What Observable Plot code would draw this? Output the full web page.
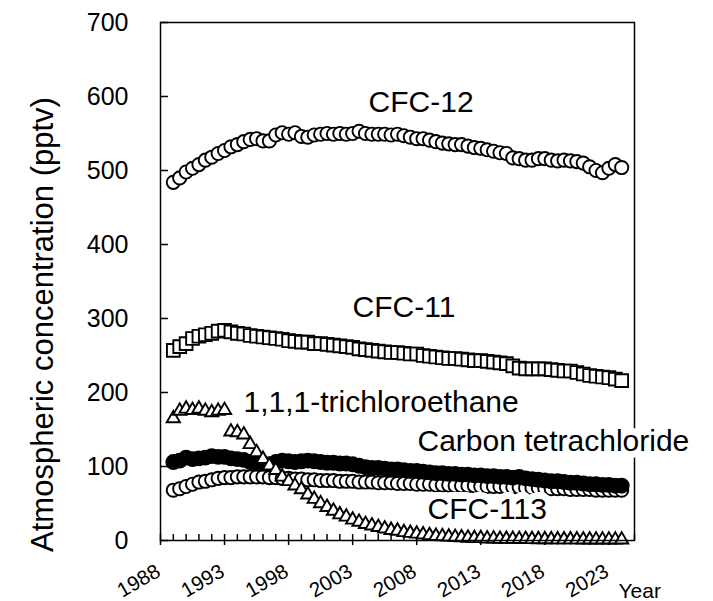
<!DOCTYPE html>
<html><head><meta charset="utf-8">
<script src="https://cdn.jsdelivr.net/npm/d3@7"></script>
<script src="https://cdn.jsdelivr.net/npm/@observablehq/plot@0.6"></script>
<style>body{margin:0;background:#fff} svg{display:block}</style>
</head><body><div id="chart"></div>
<script>
const years = [1989,1989.5,1990,1990.5,1991,1991.5,1992,1992.5,1993,1993.5,1994,1994.5,1995,1995.5,1996,1996.5,1997,1997.5,1998,1998.5,1999,1999.5,2000,2000.5,2001,2001.5,2002,2002.5,2003,2003.5,2004,2004.5,2005,2005.5,2006,2006.5,2007,2007.5,2008,2008.5,2009,2009.5,2010,2010.5,2011,2011.5,2012,2012.5,2013,2013.5,2014,2014.5,2015,2015.5,2016,2016.5,2017,2017.5,2018,2018.5,2019,2019.5,2020,2020.5,2021,2021.5,2022,2022.5,2023,2023.5,2024];

const cfc12 = [484,490,498,503,508,514,518,523,527,532,535,539,542,543,540,540,548,551,549,551,546,545,548,549,550,549,550,549,550,553,550,549,549,549,548,549,547,545,543,543,541,539,537,536,535,535,533,531,530,528,526,524,523,517,516,514,514,516,516,514,513,514,513,512,510,505,500,497,503,508,504];

const cfc11 = [257,262,266,273,276,278,280,283,284,282,280,279,277,276,275,274,273,272,270,269,268,268,266,266,265,264,263,262,261,259,258,257,256,255,254,254,253,252,252,250,249,248,247,246,246,245,244,243,243,242,241,240,239,236,233,232,232,232,232,231,230,229,229,227,225,223,222,221,220,218,216];

const tce = [165,175,178,176,178,175,173,175,176,147,146,143,130,119,110,101,95,86,80,74,69,62,56,50,45,40,35,32,28,25,22,20,18,16,14,13,11,10,9,8,7,6,5.5,5,4.5,4,3.5,3,3,2.5,2.5,2,2,2,1.8,1.8,1.6,1.5,1.5,1.4,1.3,1.3,1.2,1.2,1.1,1.1,1,1,1,1,1];

const ccl4 = [106,108,112,110,111,112,114,113,113,111,110,109,106,104,104,103,106,108,107,106,107,108,107,106,105,105,104,104,103,101,99,98,98,97,96,96,95,94,94,93,92,91,91,90,90,89,89,88,88,87,87,86,86,85,86,84,83,82,81,80,80,79,78,78,77,76,76,75,75,74,74];

const cfc113 = [68,70,73,76,79,80,82,84,85,85,86,86,86,86,86,85,85,84,84,83,83,82,82,81,81,81,80,80,80,79,79,79,78,78,78,77,77,77,76,76,76,75,75,75,74,74,74,74,73,73,73,73,72,72,72,71,71,71,70,70,70,70,69,69,69,69,68,68,68,68,68];

const xTickYears = [1988,1993,1998,2003,2008,2013,2018,2023];
const minorYears = [1988,1989,1990,1991,1992,1993,1994,1995,1996,1997,1998,1999,2000,2001,2002,2003,2004,2005,2006,2007,2008,2009,2010,2011,2012,2013,2014,2015,2016,2017,2018,2019,2020,2021,2022,2023,2024,2025];
const yTicks = [0,100,200,300,400,500,600,700];

const labelNames = ["CFC-12","CFC-11","1,1,1-trichloroethane","Carbon tetrachloride","CFC-113"];
const labelYears = [2004.24, 2002.99, 1994.48, 2008.06, 2008.84];
const labelValues = [579.7, 302.7, 174.3, 121.6, 29.7];

const rows = (vals) => years.map((y, i) => ({year: y, value: vals[i]}));
const labels = labelNames.map((t, i) => ({text: t, year: labelYears[i], value: labelValues[i]}));

const font = "Arial, 'Liberation Sans', sans-serif";
const sw = 1.9;

const chart = Plot.plot({
  width: 713,
  height: 601,
  marginLeft: 160,
  marginRight: 79,
  marginTop: 22,
  marginBottom: 61,
  style: {fontFamily: font, background: "white", color: "black", overflow: "visible"},
  x: {domain: [1988, 2025]},
  y: {domain: [0, 700]},
  marks: [
    Plot.axisY({ticks: yTicks, tickSize: 0, tickPadding: 32, fontSize: 25, label: null}),
    Plot.axisX({ticks: xTickYears, tickSize: 5, text: null, label: null, strokeWidth: 1.5}),
    Plot.text(xTickYears, {x: d => d, frameAnchor: "bottom", text: d => String(d), rotate: -30, textAnchor: "end", lineAnchor: "middle", dx: -2, dy: 29, fontSize: 20.5, fill: "black"}),
    Plot.ruleX(minorYears, {x: d => d, y1: 0, y2: 8, stroke: "black", strokeWidth: 1.5}),
    Plot.ruleY(yTicks, {y: d => d, x1: 1988, x2: 1988.62, stroke: "black", strokeWidth: 1.5}),
    Plot.dot(rows(cfc113), {x: "year", y: "value", r: 6.6, symbol: "circle", fill: "white", stroke: "black", strokeWidth: sw}),
    Plot.dot(rows(ccl4), {x: "year", y: "value", r: 7, symbol: "circle", fill: "black", stroke: "black", strokeWidth: sw}),
    Plot.dot(rows(cfc12), {x: "year", y: "value", r: 6.6, symbol: "circle", fill: "white", stroke: "black", strokeWidth: sw}),
    Plot.dot(rows(cfc11), {x: "year", y: "value", r: 7.2, symbol: "square", fill: "white", stroke: "black", strokeWidth: sw}),
    Plot.dot(rows(tce), {x: "year", y: "value", r: 4.9, symbol: "triangle", fill: "white", stroke: "black", strokeWidth: sw}),
    Plot.frame({stroke: "black", strokeWidth: 1.5}),
    Plot.text(labels, {x: "year", y: "value", text: "text", textAnchor: "start", lineAnchor: "bottom", fontSize: 30, fill: "black", stroke: "white", strokeWidth: 14, strokeLinejoin: "round", paintOrder: "stroke"}),
    Plot.text(["Atmospheric concentration (pptv)"], {frameAnchor: "left", rotate: -90, textAnchor: "middle", lineAnchor: "bottom", dx: -108, dy: 43, fontSize: 31, fill: "black"}),
    Plot.text(["Year"], {frameAnchor: "bottom-right", textAnchor: "start", lineAnchor: "bottom", dx: -16, dy: 57, fontSize: 21, fill: "black"})
  ]
});
document.getElementById("chart").appendChild(chart);
</script>
</body></html>
